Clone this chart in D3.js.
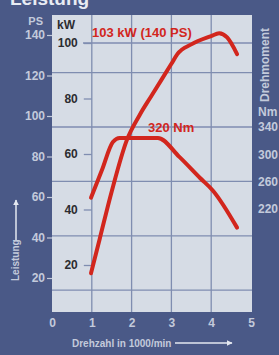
<!DOCTYPE html>
<html>
<head>
<meta charset="utf-8">
<script src="https://cdn.jsdelivr.net/npm/d3@7"></script>
<style>
  html, body { margin: 0; padding: 0; background: #4a5987; }
  svg { display: block; }
  text { font-family: "Liberation Sans Narrow", "Arial Narrow", "Liberation Sans", sans-serif; font-weight: bold; }
</style>
</head>
<body>
<div id="chart"></div>
<script>
// ---------------------------------------------------------------
// Data
// ---------------------------------------------------------------
// engine speed in 1000/min
var rpmTicks = [0, 1, 2, 3, 4, 5];
var psTicks = [20, 40, 60, 80, 100, 120, 140];
var kwTicks = [20, 40, 60, 80, 100];
var nmTicks = [220, 260, 300, 340];
var nmGrid = [100, 180, 260, 340, 420];

// power curve (kW)
var powerRpm = [0.98, 1.2, 1.5, 1.88, 2.2, 2.5, 3.0, 3.15, 3.5, 4.0, 4.2, 4.4, 4.65];
var powerKw  = [17, 29.5, 46.5, 65, 74, 81, 92.5, 96, 99.5, 102.5, 103.5, 102, 96];

// torque curve (Nm)
var torqueRpm = [0.98, 1.25, 1.53, 1.7, 2.66, 3.2, 3.72, 4.05, 4.65];
var torqueNm  = [236, 276, 318, 324, 324, 296, 265, 246, 192];

// ---------------------------------------------------------------
// Layout
// ---------------------------------------------------------------
var W = 279, H = 355;
var plot = {left: 52, top: 15, right: 252, bottom: 312};
var RED = "#d2261d";
var DARK_TXT = "#c3cadb";
var GRID = "#7f8db0";

var svg = d3.select("#chart").append("svg")
    .attr("width", W)
    .attr("height", H);

// scales
var x = d3.scaleLinear().domain([0, 5]).range([52, 251]);
var ykw = d3.scaleLinear().domain([0, 100]).range([320.5, 43]);
var yps = d3.scaleLinear().domain([0, 140]).range([318.5, 35]);
var ynm = d3.scaleLinear().domain([0, 340]).range([358.2, 127]);

// background
svg.append("rect")
    .attr("width", W).attr("height", H)
    .attr("fill", "#4a5987");

// title (cut off at top, as in the printed page)
svg.append("text")
    .attr("x", 10).attr("y", 5)
    .attr("fill", "#e8ecf4")
    .style("font-size", "19px")
    .text("Leistung");

// plot area
svg.append("rect")
    .attr("x", plot.left).attr("y", plot.top)
    .attr("width", plot.right - plot.left)
    .attr("height", plot.bottom - plot.top)
    .attr("fill", "#d6dce5");

// grid - vertical
svg.append("g")
    .selectAll("line")
    .data([1, 2, 3, 4])
    .join("line")
    .attr("x1", d => x(d)).attr("x2", d => x(d))
    .attr("y1", plot.top).attr("y2", plot.bottom)
    .attr("stroke", GRID).attr("stroke-width", 1.3);

// grid - horizontal (torque scale)
svg.append("g")
    .selectAll("line")
    .data(nmGrid.filter(d => ynm(d) > plot.top && ynm(d) < plot.bottom))
    .join("line")
    .attr("x1", plot.left).attr("x2", plot.right)
    .attr("y1", d => ynm(d)).attr("y2", d => ynm(d))
    .attr("stroke", GRID).attr("stroke-width", 1.3);

// 100 kW line
svg.append("line")
    .attr("x1", 83).attr("x2", plot.right)
    .attr("y1", ykw(100)).attr("y2", ykw(100))
    .attr("stroke", GRID).attr("stroke-width", 1.3);

// PS axis (left, on dark)
var psAxis = svg.append("g")
    .attr("transform", "translate(" + plot.left + ",0)")
    .call(d3.axisLeft(yps).tickValues(psTicks).tickSize(5).tickPadding(2));
psAxis.select(".domain").remove();
psAxis.selectAll("line").attr("stroke", DARK_TXT).attr("stroke-width", 1.2);
psAxis.selectAll("text").attr("fill", DARK_TXT).style("font-size", "12px").style("font-family", null);

svg.append("text")
    .attr("x", 43).attr("y", 25)
    .attr("text-anchor", "end")
    .attr("fill", DARK_TXT)
    .style("font-size", "11px")
    .text("PS");

// kW axis (inside plot)
var kwAxis = svg.append("g")
    .attr("transform", "translate(" + x(1) + ",0)")
    .call(d3.axisLeft(ykw).tickValues(kwTicks).tickSize(8).tickPadding(6));
kwAxis.select(".domain").remove();
kwAxis.selectAll("line").attr("stroke", GRID).attr("stroke-width", 1.3);
kwAxis.selectAll("text").attr("fill", "#2c2c30").style("font-size", "12px").style("font-family", null);

svg.append("text")
    .attr("x", 57).attr("y", 29)
    .attr("fill", "#2c2c30")
    .style("font-size", "12px")
    .text("kW");

// Nm axis (right, on dark)
var nmAxis = svg.append("g")
    .attr("transform", "translate(" + plot.right + ",0)")
    .call(d3.axisRight(ynm).tickValues(nmTicks).tickSize(0).tickPadding(6));
nmAxis.select(".domain").remove();
nmAxis.selectAll("text").attr("fill", DARK_TXT).style("font-size", "12px").style("font-family", null);

svg.append("text")
    .attr("x", 258).attr("y", 116)
    .attr("fill", DARK_TXT)
    .style("font-size", "12px")
    .text("Nm");

svg.append("text")
    .attr("transform", "translate(269,102) rotate(-90)")
    .attr("fill", DARK_TXT)
    .style("font-size", "12px")
    .text("Drehmoment");

// x axis (bottom, on dark)
var xAxis = svg.append("g")
    .attr("transform", "translate(0," + plot.bottom + ")")
    .call(d3.axisBottom(x).tickValues(rpmTicks).tickFormat(d3.format("d")).tickSize(0).tickPadding(6));
xAxis.select(".domain").remove();
xAxis.selectAll("text").attr("fill", DARK_TXT).style("font-size", "12px").style("font-family", null);

svg.append("text")
    .attr("x", 72).attr("y", 347)
    .attr("fill", DARK_TXT)
    .style("font-size", "10px")
    .text("Drehzahl in 1000/min");

// arrows
svg.append("defs").append("marker")
    .attr("id", "arr")
    .attr("viewBox", "0 0 10 10")
    .attr("refX", 9).attr("refY", 5)
    .attr("markerWidth", 4).attr("markerHeight", 4)
    .attr("orient", "auto")
    .append("path")
    .attr("d", "M0,0 L10,5 L0,10 z")
    .attr("fill", "#e4e8f0");

svg.append("line")
    .attr("x1", 175).attr("y1", 343).attr("x2", 232).attr("y2", 343)
    .attr("stroke", "#e4e8f0").attr("stroke-width", 1.5)
    .attr("marker-end", "url(#arr)");

svg.append("line")
    .attr("x1", 16).attr("y1", 240).attr("x2", 16).attr("y2", 200)
    .attr("stroke", "#e4e8f0").attr("stroke-width", 1.5)
    .attr("marker-end", "url(#arr)");

svg.append("text")
    .attr("transform", "translate(19,281) rotate(-90)")
    .attr("fill", DARK_TXT)
    .style("font-size", "10px")
    .text("Leistung");

// curves
var powerData = powerRpm.map((r, i) => ({r: r, v: powerKw[i]}));
var torqueData = torqueRpm.map((r, i) => ({r: r, v: torqueNm[i]}));

svg.append("path")
    .datum(torqueData)
    .attr("fill", "none")
    .attr("stroke", RED)
    .attr("stroke-width", 4)
    .attr("stroke-linecap", "round")
    .attr("stroke-linejoin", "round")
    .attr("d", d3.line()
        .x(d => x(d.r))
        .y(d => ynm(d.v))
        .curve(d3.curveMonotoneX));

svg.append("path")
    .datum(powerData)
    .attr("fill", "none")
    .attr("stroke", RED)
    .attr("stroke-width", 4)
    .attr("stroke-linecap", "round")
    .attr("stroke-linejoin", "round")
    .attr("d", d3.line()
        .x(d => x(d.r))
        .y(d => ykw(d.v))
        .curve(d3.curveMonotoneX));

// curve labels
svg.append("text")
    .attr("x", 92).attr("y", 37)
    .attr("fill", RED)
    .style("font-size", "13px")
    .text("103 kW (140 PS)");

svg.append("text")
    .attr("x", 148).attr("y", 132)
    .attr("fill", RED)
    .style("font-size", "13px")
    .text("320 Nm");
</script>
</body>
</html>
